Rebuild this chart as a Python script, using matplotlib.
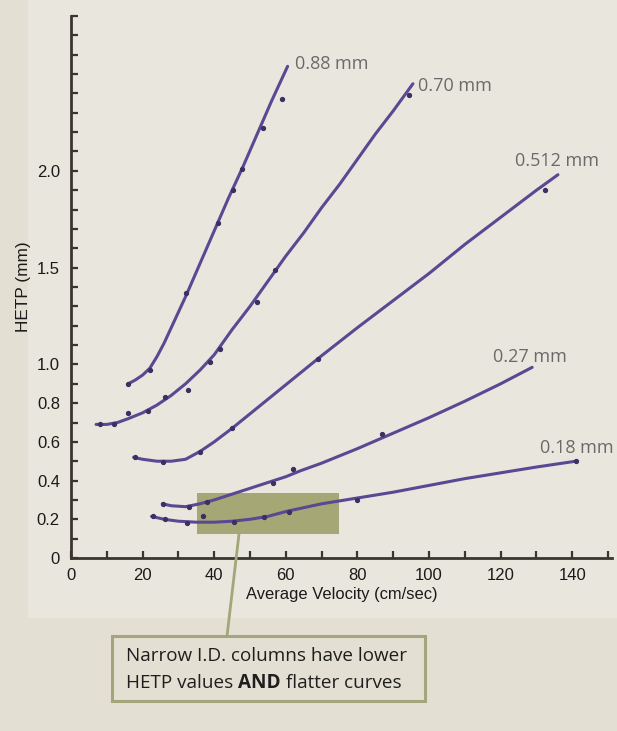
import matplotlib
matplotlib.use("Agg")
import matplotlib.pyplot as plt
from matplotlib.patches import Rectangle

# Fitted HETP curves (velocity cm/sec, HETP mm) for each column I.D.
v_088 = [16, 18, 20, 22, 24, 26, 28, 30, 32, 36, 40, 44, 48, 52, 56, 60.5]
h_088 = [0.90, 0.92, 0.945, 0.98, 1.04, 1.11, 1.19, 1.27, 1.35, 1.52, 1.69, 1.86, 2.02, 2.19, 2.36, 2.54]

v_070 = [7, 10, 13, 16, 20, 24, 28, 32, 36, 40, 45, 50, 55, 60, 65, 70, 75, 80, 85, 90, 95.5]
h_070 = [0.69, 0.69, 0.70, 0.72, 0.75, 0.79, 0.84, 0.90, 0.97, 1.05, 1.18, 1.30, 1.43, 1.56,
         1.68, 1.81, 1.93, 2.06, 2.19, 2.31, 2.45]

v_0512 = [17.5, 20, 24, 28, 32, 36, 40, 45, 50, 55, 60, 65, 70, 80, 90, 100, 110, 120, 130, 136]
h_0512 = [0.52, 0.51, 0.50, 0.50, 0.51, 0.55, 0.60, 0.67, 0.745, 0.82, 0.895, 0.97, 1.045,
          1.19, 1.33, 1.47, 1.62, 1.76, 1.90, 1.98]

v_027 = [25.5, 28, 32, 36, 40, 45, 50, 55, 60, 64, 70, 80, 90, 100, 110, 120, 128.8]
h_027 = [0.28, 0.27, 0.265, 0.28, 0.30, 0.33, 0.36, 0.39, 0.42, 0.45, 0.49, 0.565, 0.645,
         0.725, 0.81, 0.90, 0.985]

v_018 = [22.5, 26, 30, 35, 40, 45, 50, 55, 60, 65, 70, 80, 90, 100, 110, 120, 130, 141]
h_018 = [0.215, 0.20, 0.19, 0.185, 0.185, 0.19, 0.20, 0.215, 0.24, 0.26, 0.28, 0.31, 0.34,
         0.375, 0.41, 0.44, 0.47, 0.50]

# Measured points
pv_088 = [16, 22, 32, 41, 45.3, 47.7, 53.6, 59]
ph_088 = [0.90, 0.97, 1.37, 1.73, 1.90, 2.01, 2.22, 2.37]
pv_070 = [8.2, 12, 16, 21.6, 26.3, 32.8, 38.8, 41.6, 51.9, 57, 94.4]
ph_070 = [0.69, 0.69, 0.75, 0.76, 0.83, 0.87, 1.01, 1.08, 1.32, 1.49, 2.39]
pv_0512 = [18, 25.7, 36, 45, 69, 132.4]
ph_0512 = [0.52, 0.495, 0.55, 0.67, 1.03, 1.90]
pv_027 = [25.7, 33, 38, 56.5, 62, 87]
ph_027 = [0.28, 0.265, 0.29, 0.39, 0.46, 0.64]
pv_018 = [22.8, 26.2, 32.3, 37, 45.4, 53.8, 61, 80, 141]
ph_018 = [0.215, 0.20, 0.18, 0.215, 0.185, 0.21, 0.24, 0.30, 0.50]

labels = ["0.88 mm", "0.70 mm", "0.512 mm", "0.27 mm", "0.18 mm"]

yticks_labelled = [0, 0.2, 0.4, 0.6, 0.8, 1.0, 1.5, 2.0]
ytick_text = ["0", "0.2", "0.4", "0.6", "0.8", "1.0", "1.5", "2.0"]
xticks_labelled = [0, 20, 40, 60, 80, 100, 120, 140]

W, H = 617, 731
fig = plt.figure(figsize=(W / 100, H / 100), dpi=100)
fig.patch.set_facecolor("#e4dfd3")
panel = Rectangle((28 / W, (H - 618) / H), 1, 1, transform=fig.transFigure,
                  facecolor="#e9e6dd", edgecolor="none", zorder=-5)
fig.add_artist(panel)

ax = fig.add_axes([71 / W, (H - 558) / H, (612 - 71) / W, (558 - 16) / H])
ax.set_facecolor("none")
ax.set_zorder(1)
ax.set_xlim(0, 151.1)
ax.set_ylim(0, 2.795)

line_c = "#5a4892"
dot_c = "#3b2f63"
curves = [(v_088, h_088, pv_088, ph_088), (v_070, h_070, pv_070, ph_070),
          (v_0512, h_0512, pv_0512, ph_0512), (v_027, h_027, pv_027, ph_027),
          (v_018, h_018, pv_018, ph_018)]
for v, h, pv, ph in curves:
    ax.plot(v, h, color=line_c, lw=2.2, solid_capstyle="round",
            solid_joinstyle="round", zorder=3)
    ax.plot(pv, ph, "o", color=dot_c, ms=2.8, zorder=4)

# Curve labels
lab_pos = [(62.5, 2.55), (97.0, 2.44), (124.0, 2.05), (118.0, 1.04), (131.0, 0.57)]
for (x, y), t in zip(lab_pos, labels):
    ax.text(x, y, t, fontsize=13, color="#6a6a6a", family="Open Sans",
            ha="left", va="center", zorder=5)

# Highlight region
ax.add_patch(Rectangle((35.2, 0.124), 74.9 - 35.2, 0.335 - 0.124, facecolor="#9ea06a",
                       edgecolor="none", alpha=0.9, zorder=2))

# Axes styling
for s in ["top", "right"]:
    ax.spines[s].set_visible(False)
for s in ["left", "bottom"]:
    ax.spines[s].set_color("#3a3530")
    ax.spines[s].set_linewidth(2.0)

ax.set_yticks([i / 10 for i in range(0, 29)])
ax.set_yticklabels([ytick_text[yticks_labelled.index(round(i / 10, 1))]
                    if round(i / 10, 1) in yticks_labelled else "" for i in range(0, 29)])
ax.set_xticks(list(range(0, 151, 10)))
ax.set_xticklabels([str(x) if x in xticks_labelled else "" for x in range(0, 151, 10)])
ax.tick_params(axis="both", direction="in", length=5, width=1.6, color="#3a3530",
               labelsize=12, labelcolor="#1a1a1a")
ax.tick_params(axis="y", pad=8)
ax.tick_params(axis="x", pad=7)
for lab in ax.get_xticklabels() + ax.get_yticklabels():
    lab.set_family("Liberation Sans")

ax.set_xlabel("Average Velocity (cm/sec)", fontsize=11.9, family="Liberation Sans",
              color="#1a1a1a", labelpad=3)
ax.set_ylabel("HETP (mm)", fontsize=12.4, family="Liberation Sans",
              color="#1a1a1a", labelpad=4)

# Callout
fig.add_artist(plt.Line2D([239 / W, 227 / W], [(H - 534) / H, (H - 636) / H],
                          transform=fig.transFigure, color="#a3a67a", lw=2, zorder=2))
fig.add_artist(Rectangle((112 / W, (H - 701) / H), (425 - 112) / W, (701 - 636) / H,
                         transform=fig.transFigure, facecolor="#e4dfd3",
                         edgecolor="#a3a67a", lw=2.2, zorder=2))
fs = 13.6
x0 = 126 / W
fig.text(x0, (H - 656) / H, "Narrow I.D. columns have lower", fontsize=fs,
         family="Open Sans", color="#1e1e1e", ha="left", va="center", zorder=3)
renderer = fig.canvas.get_renderer()
parts = [("HETP values ", "normal"), ("AND", "bold"), (" flatter curves", "normal")]
xc = x0
for txt, wt in parts:
    t = fig.text(xc, (H - 683) / H, txt, fontsize=fs, family="Open Sans", weight=wt,
                 color="#1e1e1e", ha="left", va="center", zorder=3)
    bb = t.get_window_extent(renderer)
    xc += bb.width / (W)

fig.savefig("out.png", dpi=100, facecolor=fig.get_facecolor())
